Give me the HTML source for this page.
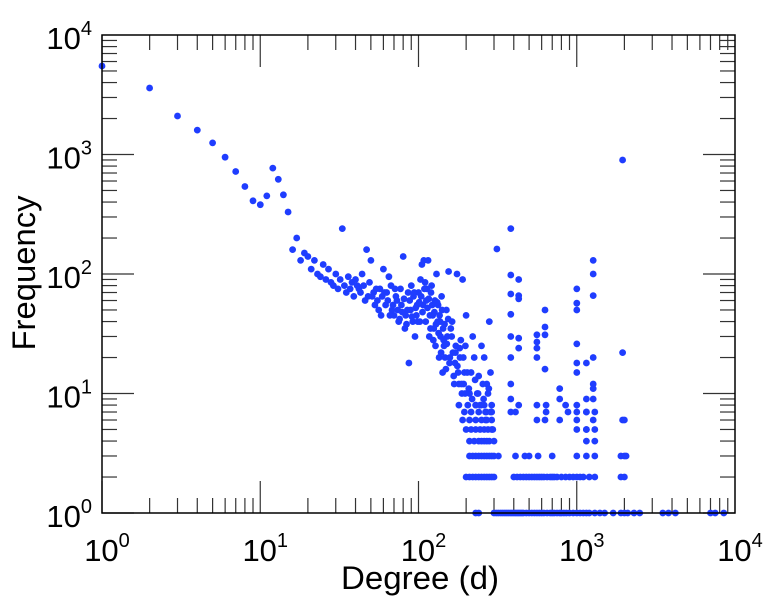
<!DOCTYPE html>
<html><head><meta charset="utf-8"><style>
html,body{margin:0;padding:0;background:#fff;}
svg{display:block;font-family:"Liberation Sans",sans-serif;}
</style></head><body>
<svg id="chart" width="764" height="600" viewBox="0 0 764 600" xmlns="http://www.w3.org/2000/svg">
<g id="ticks"></g>
<g id="dots"></g>
<rect x="102" y="35" width="633" height="478" fill="none" stroke="#000" stroke-width="1.5"/>
<g id="labels" font-size="31" fill="#000"></g>
<text x="420" y="589" font-size="32" text-anchor="middle" textLength="158" lengthAdjust="spacingAndGlyphs">Degree (d)</text>
<text transform="translate(35,273) rotate(-90)" font-size="32" text-anchor="middle" textLength="155" lengthAdjust="spacingAndGlyphs">Frequency</text>
</svg>
<script>
const xExps = [0,1,2,3,4];
const yExps = [0,1,2,3,4];
const degrees = [1,2,3,4,5,6,7,8,9,10,11,12,13,14,15,
16,17,18,19,20,21,22,23,24,25,26,27,28,29,30,31,32,33,34,35,36,38,40,42,44,45,47,48,50,52,55,57,60,62,65,68,70,72,75,78,80,82,85,88,90,92,95,98,100,103,105,108,110,112,115,118,120,122,125,128,130,132,135,138,140,142,145,150,155,160,165,170,175,180,185,190,195,200,210,220,230,240,250,260,270,280,290,313,87,
58,63,67,73,77,83,86,93,97,102,107,113,117,123,127,133,137,143,147,152,157,163,168,172,178,183,188,193,198,205,215,225,235,245,255,265,275,285,295,
37,39,41,43,46,49,51,53,54,56,59,61,64,66,69,71,74,76,79,81,84,89,91,94,96,99,101,104,106,109,111,114,116,119,121,124,126,129,131,134,136,139,141,144,146,149,151,154,158,162,167,171,176,182,187,192,197,203,208,218,228,238,248,258,268,278,
383,383,383,383,383,383,383,383,383,430,430,430,430,430,430,560,560,560,560,560,560,630,630,630,630,630,780,780,780,880,1000,1000,1000,1000,1000,1000,1000,1000,1150,1150,1150,1150,1270,1270,1270,1270,1270,1270,1270,1270,1950,1950,1950];
const freqs = [5500,3600,2100,1600,1250,950,720,540,410,380,450,770,620,460,330,
160,200,130,150,140,110,130,100,95,120,90,110,85,80,100,75,90,240,80,70,95,85,90,75,100,80,160,65,130,70,60,75,110,55,95,50,45,65,40,55,140,35,50,60,80,40,30,55,70,90,120,130,85,60,130,45,70,55,35,25,100,40,20,30,65,15,25,50,105,35,22,18,100,12,28,90,15,45,10,30,8,14,25,20,12,40,7,162,18,
45,70,80,60,75,45,70,65,45,40,55,75,30,45,60,55,40,35,20,30,18,40,12,25,15,20,10,12,25,8,15,20,10,8,12,6,10,15,5,
75,65,80,70,60,85,65,55,75,50,65,70,60,45,55,75,50,42,48,62,38,50,44,70,52,40,58,65,48,75,40,52,62,35,80,28,48,38,58,32,45,22,50,28,38,16,26,42,20,30,14,22,17,24,12,20,10,15,11,9,13,10,8,9,7,11,
240,98,68,46,30,20,12,9,7,90,66,62,29,24,8,31,27,24,20,8,6,50,36,31,16,6,11,9,6,7,75,57,50,26,18,15,8,6,18,9,7,5,130,100,66,20,12,11,9,6,900,22,6];
const row1Deg = [230,240,300,310,320,330,340,350,360,370,380,390,400,410,420,430,440,450,460,480,500,520,540,560,580,600,620,650,680,700,720,750,780,800,830,860,900,950,1000,1050,1100,1150,1200,1300,1400,1500,1700,1900,2000,2100,2300,2500,3500,3800,4200,7000,7500,8500];
const row2Deg = [200,210,220,230,240,250,260,270,280,290,300,400,420,440,460,480,500,520,540,560,580,600,620,650,680,700,720,750,800,850,900,950,1000,1050,1100,1200,1300,1900,2000];
const row3Deg = [210,220,230,240,250,260,270,280,290,300,320,410,470,500,570,700,1000,1150,1300,1900,2000,2050];
const row4Deg = [210,225,240,250,260,270,280,300,1150,1300];
const row5Deg = [200,215,230,245,260,275,290,1000,1150,1300];
const row6Deg = [190,210,230,250,270,290,2000];
const row7Deg = [195,215,240,265,285,410,640,1000,1150,1300];
const row8Deg = [180,230,260,290,640,850];
const rows = [[1,row1Deg],[2,row2Deg],[3,row3Deg],[4,row4Deg],[5,row5Deg],[6,row6Deg],[7,row7Deg],[8,row8Deg]];

const X0=102,X1=735,Y0=513,Y1=35;
function xs(d){return X0+(X1-X0)*Math.log10(d)/4;}
function ys(f){return Y0-(Y0-Y1)*Math.log10(f)/4;}
const NS="http://www.w3.org/2000/svg";
const dots=document.getElementById('dots');
function dot(d,f){
  const c=document.createElementNS(NS,'circle');
  c.setAttribute('cx',xs(d).toFixed(1));c.setAttribute('cy',ys(f).toFixed(1));
  c.setAttribute('r',3.4);c.setAttribute('fill','#1f3dff');
  
  
  dots.appendChild(c);
}
for(let i=0;i<degrees.length;i++) dot(degrees[i],freqs[i]);
rows.forEach(r=>r[1].forEach(d=>dot(d,r[0])));

const tk=document.getElementById('ticks');
function line(x1,y1,x2,y2){
  const l=document.createElementNS(NS,'line');
  l.setAttribute('x1',x1);l.setAttribute('y1',y1);l.setAttribute('x2',x2);l.setAttribute('y2',y2);
  l.setAttribute('stroke','#333');l.setAttribute('stroke-width','1.2');
  
  
  tk.appendChild(l);
}
for(let e=0;e<4;e++){
  for(let m=1;m<10;m++){
    const v=Math.pow(10,e)*m;
    const L=(m===1)?32:15;
    const x=xs(v), y=ys(v);
    line(x,Y0,x,Y0-L); line(x,Y1,x,Y1+L);
    line(X0,y,X0+L,y); line(X1,y,X1-L,y);
  }
}
const lab=document.getElementById('labels');
function label(x,y,e,anchor,name){
  const t=document.createElementNS(NS,'text');
  t.setAttribute('x',x);t.setAttribute('y',y);t.setAttribute('text-anchor',anchor);
  
  
  t.innerHTML='10<tspan font-size="20" dy="-14">'+e+'</tspan>';
  lab.appendChild(t);
}
xExps.forEach(e=>label(xs(Math.pow(10,e))+5,561,e,'middle','x-tick-label'));
yExps.forEach(e=>label(92,ys(Math.pow(10,e))+14,e,'end','y-tick-label'));
</script>
</body></html>
